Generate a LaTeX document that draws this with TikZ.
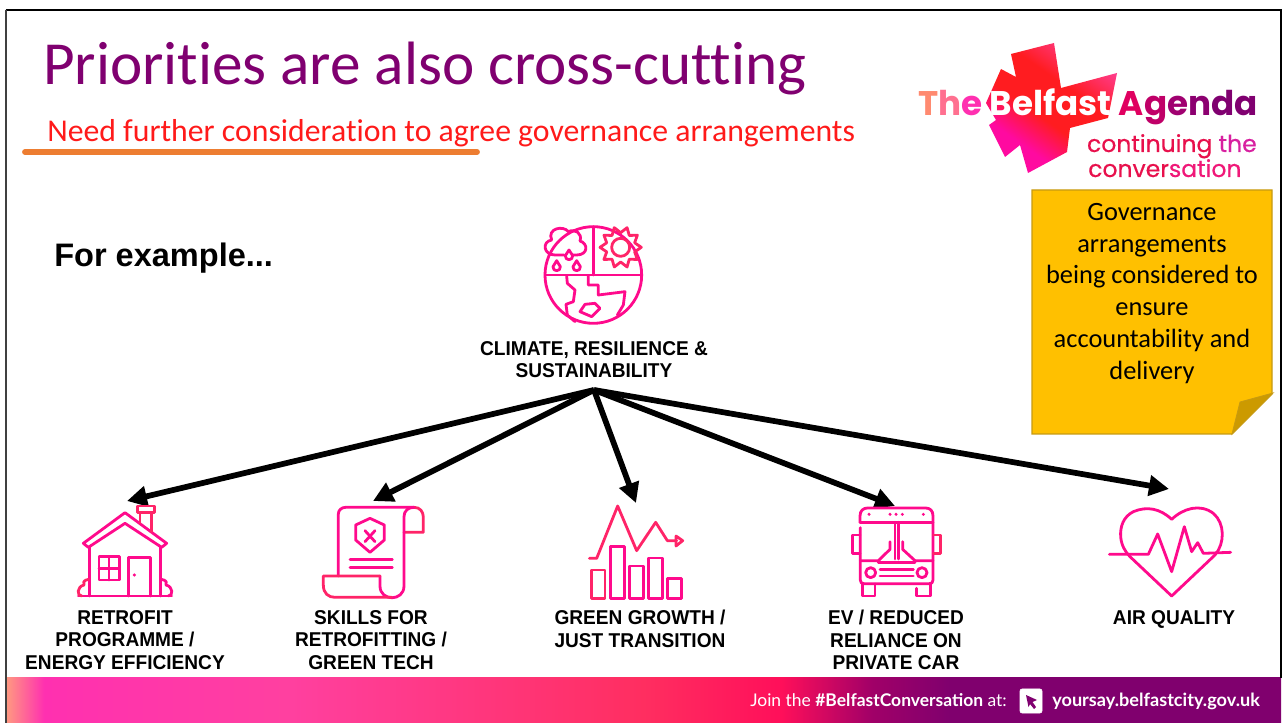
\documentclass[tikz,border=0pt]{standalone}
\usepackage{fontspec}
\setmainfont{Liberation Sans}
\newfontfamily\handfont[Ligatures=NoCommon]{Carlito}
\newfontfamily\logofont{Poppins}
\newfontfamily\logomed[FakeBold=0.5]{Poppins}
\newfontfamily\footfont{Lato}
\newfontfamily\labelfont[FakeStretch=0.955]{Liberation Sans}
\usetikzlibrary{arrows.meta}
\definecolor{titlepurple}{HTML}{800070}
\definecolor{subred}{HTML}{FF1A1A}
\definecolor{underl}{HTML}{ED7D31}
\definecolor{noteface}{HTML}{FFC000}
\definecolor{noteedge}{HTML}{C79A12}
\definecolor{notefold}{HTML}{CC9A00}
\definecolor{iconpink}{HTML}{FF0A8C}
\definecolor{iconred}{HTML}{FF2468}
\definecolor{b0}{HTML}{FF9A80}
\definecolor{b1}{HTML}{FF30B0}
\definecolor{b2}{HTML}{FF40A0}
\definecolor{b3}{HTML}{FF2E60}
\definecolor{b4}{HTML}{FF0F5A}
\definecolor{b5}{HTML}{A00068}
\definecolor{b6}{HTML}{80006E}
\pgfdeclarehorizontalshading{footbar}{100bp}{
 color(0bp)=(b0);
 color(25bp)=(b0);
 color(26.5bp)=(b1);
 color(36bp)=(b2);
 color(50bp)=(b3);
 color(55.4bp)=(b4);
 color(59bp)=(b5);
 color(62bp)=(b6);
 color(100bp)=(b6)}
\definecolor{s0}{HTML}{FF0AA0}
\definecolor{s1}{HTML}{FF1C20}
\definecolor{s2}{HTML}{FF3C8C}
\pgfdeclareverticalshading{burst}{100bp}{
 color(0bp)=(s0);
 color(32bp)=(s0);
 color(45bp)=(s1);
 color(60bp)=(s1);
 color(75bp)=(s2);
 color(100bp)=(s2)}
\tikzset{
 px/.style={x=0.75pt,y=-0.75pt},
 icon/.style={draw=iconpink,line width=2.1pt,line join=round,line cap=round,fill=none},
 zoomed/.style={shift={#1},x=0.25pt,y=-0.25pt},
 label/.style={font=\labelfont\fontsize{15}{16.9}\selectfont\bfseries,align=center,anchor=north,text=black,inner sep=0pt},
 hand/.style={font=\handfont,inner sep=0pt},
 link/.style={line width=4.3pt,-{Triangle[length=15pt,width=15pt]},black,shorten >=0pt},
}
\begin{document}
\begin{tikzpicture}[px]
\useasboundingbox (0,0) rectangle (1283,723);
\fill[white] (0,0) rectangle (1283,723);
% footer bar
\shade[shading=footbar] (6,678) rectangle (1281,723);
% frame
\draw[black,line width=1.8pt] (5.5,10) -- (1281,10) -- (1281,678);
\draw[black!75,line width=1.5pt] (5.5,10) -- (5.5,723);
% title
\node[hand,anchor=base west,text=titlepurple,font=\handfont\fontsize{45.9}{46}\selectfont] (title) at (43,85) {Priorities are also cross-cutting};
\draw[underl,line width=4.4pt,line cap=round] (25,152) -- (477,152);
\node[hand,anchor=base west,text=subred,font=\handfont\fontsize{23.8}{24}\selectfont] (sub) at (47,142) {Need further consideration to agree governance arrangements};
% logo
\shade[shading=burst,shading angle=-35] (1011,54)--(1054,43)--(1061,88)--(1117,73)--(1108,118)--(1070,128)--(1067,152)--(1028,173)--(1020,145)--(1005,157)--(989,125)--(996,120)--(986,103)--(1001,69)--(1016,77)--cycle;
\node[anchor=base west,inner sep=0pt,font=\logofont\bfseries\fontsize{25.6}{26}\selectfont] (logoa) at (918,116) {\textcolor[HTML]{FF8A70}{T}\textcolor[HTML]{FF7090}{h}\textcolor[HTML]{FF30B0}{e} \textcolor{white}{Belfast} \textcolor[HTML]{E00060}{A}\textcolor[HTML]{C00068}{g}\textcolor[HTML]{A00070}{e}\textcolor[HTML]{8C0070}{n}\textcolor[HTML]{800070}{d}\textcolor[HTML]{800070}{a}};
\node[anchor=base east,inner sep=0pt,font=\logomed\fontsize{17.6}{18}\selectfont] (logob) at (1257,152) {\textcolor[HTML]{E8104C}{continuing} \textcolor[HTML]{D820A0}{the}};
\node[anchor=base west,inner sep=0pt,font=\logomed\fontsize{17.6}{18}\selectfont] (logoc) at (1088,177) {\textcolor[HTML]{E8104C}{conver}\textcolor[HTML]{F01878}{sation}};
% note
\draw[fill=noteface,draw=noteedge,line width=0.9pt] (1032,190)--(1272,190)--(1272,394)--(1232,434)--(1032,434)--cycle;
\draw[fill=notefold,draw=noteedge,line width=0.6pt] (1232,434)--(1240,402)--(1273,393)--cycle;
\node[hand,align=center,anchor=north,font=\handfont\fontsize{19.8}{23.85}\selectfont,text=black] (note) at (1152,203) {Governance\\arrangements\\being considered to\\ensure\\accountability and\\delivery};
% For example
\node[anchor=west,inner sep=0pt,font=\fontsize{24.4}{25}\selectfont\bfseries] (forex) at (54,258) {For example...};
% labels
\node[label] (lclimate) at (594,341) {CLIMATE, RESILIENCE \&\\SUSTAINABILITY};
\node[label] (lretro) at (125,610) {RETROFIT\\PROGRAMME /\\ENERGY EFFICIENCY};
\node[label] (lskills) at (371,610) {SKILLS FOR\\RETROFITTING /\\GREEN TECH};
\node[label] (lgreen) at (640,610) {GREEN GROWTH /\\JUST TRANSITION};
\node[label] (lev) at (896,610) {EV / REDUCED\\RELIANCE ON\\PRIVATE CAR};
\node[label] (lair) at (1174,610) {AIR QUALITY};
% connectors
\coordinate (hub) at (594,390);
\coordinate (ta) at (127,501);
\coordinate (tb) at (373,501);
\coordinate (tc) at (636,503);
\coordinate (td) at (895,506);
\coordinate (te) at (1169,489);
\draw[link] (hub) -- (ta);
\draw[link] (hub) -- (tb);
\draw[link] (hub) -- (tc);
\draw[link] (hub) -- (td);
\draw[link] (hub) -- (te);
% climate icon
\begin{scope}[zoomed={(530,215)}]
\draw[icon] (190,180) circle[radius=145];
\draw[icon] (190,35)--(190,180);
\draw[icon] (48,180)--(335,180);
\draw[icon] (102,120) -- (75,120) .. controls (40,120) and (35,80) .. (65,75) .. controls (50,40) and (100,30) .. (115,50) .. controls (135,40) and (158,55) .. (150,78) .. controls (175,85) and (175,120) .. (140,120) -- (130,120);
\draw[icon] (117,105) -- (106,122) .. controls (104,138) and (130,138) .. (128,122) -- cycle;
\draw[icon] (80,137) -- (69,155) .. controls (67,171) and (93,171) .. (91,155) -- cycle;
\draw[icon] (140,137) -- (129,155) .. controls (127,171) and (153,171) .. (151,155) -- cycle;
\draw[icon,draw=iconred] (272,97) circle[radius=27];
\begin{scope}[shift={(272,97)}]
\draw[icon,draw=iconred] (0:62) \foreach \a in {18,54,...,342}{ -- (\a:44) -- (\a+18:62)} -- cycle;
\end{scope}
\draw[icon] (110,183)--(112,205)--(135,225)--(130,260)--(108,268)--(112,300)--(135,320);
\draw[icon] (175,183)--(175,210)--(205,210)--(205,240)--(285,230)--(280,270)--(262,300);
\draw[icon] (150,290)--(165,268)--(195,265)--(210,280)--(185,305)--cycle;
\end{scope}
% house icon
\begin{scope}[zoomed={(60,490)}]
\draw[icon] (70,160)--(195,68)--(320,160)--(305,172)--(195,100)--(85,172)--cycle;
\draw[icon] (88,172)--(88,318);
\draw[icon] (302,172)--(302,318);
\draw[icon,draw=iconred] (232,48)--(284,48)--(284,68)--(232,68)--cycle;
\draw[icon,draw=iconred] (240,68)--(240,100);
\draw[icon,draw=iconred] (275,68)--(275,125);
\draw[icon] (117,200) rectangle (178,270);
\draw[icon] (147,200)--(147,270);
\draw[icon] (117,235)--(178,235);
\draw[icon] (205,318)--(205,202)--(272,202)--(272,318);
\fill[iconpink] (223,255) circle[radius=5];
\draw[icon] (55,318)--(335,318);
\draw[icon,draw=iconred] (86,268) .. controls (70,270) and (68,280) .. (72,285) .. controls (50,290) and (50,318) .. (65,318);
\draw[icon] (304,268) .. controls (320,270) and (322,280) .. (318,285) .. controls (340,290) and (340,318) .. (325,318);
\end{scope}
% scroll icon
\begin{scope}[zoomed={(60,490)}]
\draw[icon] (835,258)--(835,72) .. controls (835,60) and (845,52) .. (857,52) -- (1062,52);
\draw[icon,draw=iconred] (1062,52) .. controls (1080,52) and (1090,65) .. (1090,82) -- (1090,127) -- (1032,127);
\draw[icon] (1062,52) .. controls (1045,52) and (1032,62) .. (1032,80) -- (1032,288) .. controls (1032,335) and (960,335) .. (960,288) -- (960,258);
\draw[icon,draw=iconred] (960,258) -- (790,258) -- (790,285) .. controls (790,310) and (805,322) .. (825,322) -- (995,322);
\draw[icon] (930,85)--(973,105)--(973,150)--(930,187)--(887,150)--(887,105)--cycle;
\draw[icon] (915,122)--(945,155);
\draw[icon] (945,122)--(915,155);
\draw[icon] (870,208)--(997,208);
\draw[icon] (870,232)--(997,232);
\end{scope}
% chart icon
\begin{scope}[zoomed={(570,490)}]
\draw[icon,draw=iconred] (58,205)--(80,205)--(143,48)--(200,182)--(257,97)--(292,152)--(320,152);
\draw[icon,draw=iconred] (318,138)--(338,152)--(318,168)--cycle;
\draw[icon,draw=iconred] (65,240) rectangle (105,325);
\draw[icon] (122,170) rectangle (163,325);
\draw[icon] (178,228) rectangle (220,325);
\draw[icon] (235,204) rectangle (277,325);
\draw[icon] (292,265) rectangle (335,325);
\end{scope}
% bus icon
\begin{scope}[zoomed={(570,490)}]
\draw[icon] (870,97) -- (870,78) .. controls (870,62) and (880,54) .. (893,54) -- (1067,54) .. controls (1080,54) and (1089,62) .. (1089,78) -- (1089,270) .. controls (1089,278) and (1085,281) .. (1078,281) -- (882,281) .. controls (875,281) and (871,278) .. (871,270) -- (871,113);
\draw[icon] (870,97)--(1089,97);
\draw[icon] (975,97)--(975,207);
\draw[icon] (985,97)--(985,207);
\draw[icon] (871,212)--(925,212)--(960,178)--(960,155);
\draw[icon] (1089,212)--(1035,212)--(998,178)--(998,155);
\draw[icon] (925,218)--(1035,218) ;
\draw[icon] (902,248) circle[radius=15];
\draw[icon] (1056,248) circle[radius=15];
\draw[icon] (930,238)--(1030,238);
\draw[icon] (930,258)--(1030,258);
\draw[icon] (878,282)--(878,318)--(915,318)--(915,282);
\draw[icon] (1040,295)--(1040,318)--(1082,318)--(1082,282);
\draw[icon] (870,135)--(848,135)--(848,190)--(870,190);
\draw[icon,draw=iconred] (1090,135)--(1112,135)--(1112,190)--(1090,190);
\foreach \xx in {897,960,978,997,1060}{\fill[iconpink] (\xx,73) circle[radius=5];}
\end{scope}
% heart icon
\begin{scope}[zoomed={(1090,480)}]
\draw[icon] (245,118) .. controls (210,85) and (170,78) .. (130,95) .. controls (100,110) and (90,140) .. (92,170) .. controls (94,195) and (105,215) .. (120,230) -- (245,348) -- (375,225) .. controls (405,190) and (405,130) .. (370,100) .. controls (330,70) and (280,85) .. (245,118) -- cycle;
\draw[icon] (58,223)--(175,223)--(203,162)--(245,275)--(283,140)--(305,215)--(323,188)--(340,220)--(422,217);
\end{scope}
% footer text
\node[anchor=base west,inner sep=0pt,text=white,font=\footfont\fontsize{13.1}{14}\selectfont] (jointxt) at (750,706) {Join the \textbf{\#BelfastConversation} at:};
\draw[fill=white,draw=white,rounded corners=1.5pt] (1020,689) rectangle (1042,713);
\fill[titlepurple] (1026,695)--(1037,700)--(1032.5,702)--(1036,707)--(1034,709)--(1030,704)--(1028.5,707)--cycle;
\node[anchor=base west,inner sep=0pt,text=white,font=\footfont\bfseries\fontsize{13.6}{14}\selectfont] (urltxt) at (1052,706) {yoursay.belfastcity.gov.uk};
\end{tikzpicture}
\end{document}
